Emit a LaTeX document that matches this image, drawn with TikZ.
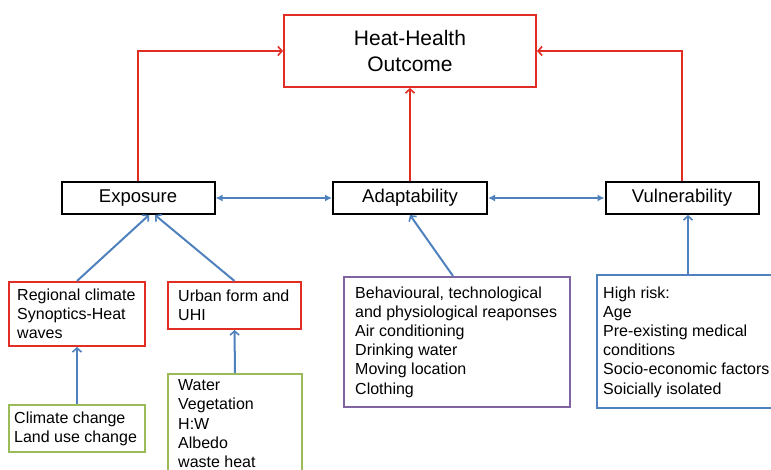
\documentclass[tikz,border=0pt]{standalone}
\usepackage{fontspec}
\setmainfont{Liberation Sans}
\usetikzlibrary{arrows.meta}

\definecolor{hhred}{RGB}{226,45,37}
\definecolor{hhblue}{RGB}{79,129,189}
\definecolor{hhgreen}{RGB}{155,187,89}
\definecolor{hhpurple}{RGB}{128,100,162}

\tikzset{
  basebox/.style={draw, line width=2pt, inner sep=0pt, anchor=north west},
  blackbox/.style={basebox, draw=black, font=\fontsize{18.5}{22}\selectfont},
  redbox/.style={basebox, draw=hhred},
  greenbox/.style={basebox, draw=hhgreen},
  purplebox/.style={basebox, draw=hhpurple},
  bluebox/.style={basebox, draw=hhblue},
  boxtext/.style={align=left, inner sep=0pt, font=\fontsize{16}{19.2}\selectfont},
  redarrow/.style={draw=hhred, line width=2pt, -{Straight Barb[length=4pt,width=9pt,line width=1.6pt]}},
  bluearrow/.style={draw=hhblue, line width=2pt, -{Straight Barb[length=4pt,width=9pt,line width=1.6pt]}},
  linkarrow/.style={draw=hhblue, line width=2pt, {Latex[length=7pt,width=7pt]}-{Latex[length=7pt,width=7pt]}}
}

\begin{document}
\begin{tikzpicture}[x=1pt,y=-1pt]
\useasboundingbox (0,0) rectangle (771,470);

% outcome at the top
\node[redbox, minimum width=252, minimum height=72, align=center,
      font=\fontsize{21}{26}\selectfont] (outcome) at (283,14) {Heat-Health\\Outcome};

% the three components
\node[blackbox, minimum width=153, minimum height=32] (expo) at (60.5,181) {Exposure};
\node[blackbox, minimum width=154, minimum height=32] (adapt) at (332,181) {Adaptability};
\node[blackbox, minimum width=153, minimum height=32] (vuln) at (604.5,181) {Vulnerability};

% factor boxes
\node[redbox, minimum width=136, minimum height=64] (regional) at (8,281) {};
\node[boxtext, anchor=west] (regionaltxt) at ([xshift=9]regional.west)
  {Regional climate\\Synoptics-Heat\\waves};

\node[redbox, minimum width=133, minimum height=47] (urban) at (167,281) {};
\node[boxtext, anchor=west] (urbantxt) at ([xshift=11]urban.west)
  {Urban form and\\UHI};

\node[greenbox, minimum width=136, minimum height=47] (change) at (8,404) {};
\node[boxtext, anchor=west] (changetxt) at ([xshift=6]change.west)
  {Climate change\\Land use change};

\node[greenbox, minimum width=134, minimum height=104] (surface) at (167,373) {};
\node[boxtext, anchor=north west] (surfacetxt) at ([xshift=11,yshift=-6.5]surface.north west)
  {Water\\Vegetation\\H:W\\Albedo\\waste heat};

\node[purplebox, minimum width=226, minimum height=130] (responses) at (343,276) {};
\node[boxtext, anchor=west] (responsestxt) at ([xshift=12]responses.west)
  {Behavioural, technological\\and physiological reaponses\\Air conditioning\\Drinking water\\Moving location\\Clothing};

\node[bluebox, minimum width=180, minimum height=133] (risk) at (596,274) {};
\node[boxtext, anchor=west] (risktxt) at ([xshift=7,yshift=-0.5]risk.west)
  {High risk:\\Age\\Pre-existing medical\\conditions\\Socio-economic factors\\Soicially isolated};

% links to the outcome
\draw[redarrow] (expo.north) |- (outcome.west);
\draw[redarrow] (adapt.north) -- (outcome.south);
\draw[redarrow] (vuln.north) |- (outcome.east);

% links between components
\draw[linkarrow] (expo.east) -- (adapt.west);
\draw[linkarrow] (adapt.east) -- (vuln.west);

% factors feeding the components
\draw[bluearrow] (regional.north) -- ([xshift=11]expo.south);
\draw[bluearrow] (urban.north) -- ([xshift=17]expo.south);
\draw[bluearrow] (change.north) -- (regional.south);
\draw[bluearrow] (surface.north) -- (urban.south);
\draw[bluearrow] ([xshift=-4]responses.north) -- (adapt.south);
\draw[bluearrow] ([xshift=6]vuln.south |- risk.north) -- ([xshift=6]vuln.south);
\end{tikzpicture}
\end{document}
